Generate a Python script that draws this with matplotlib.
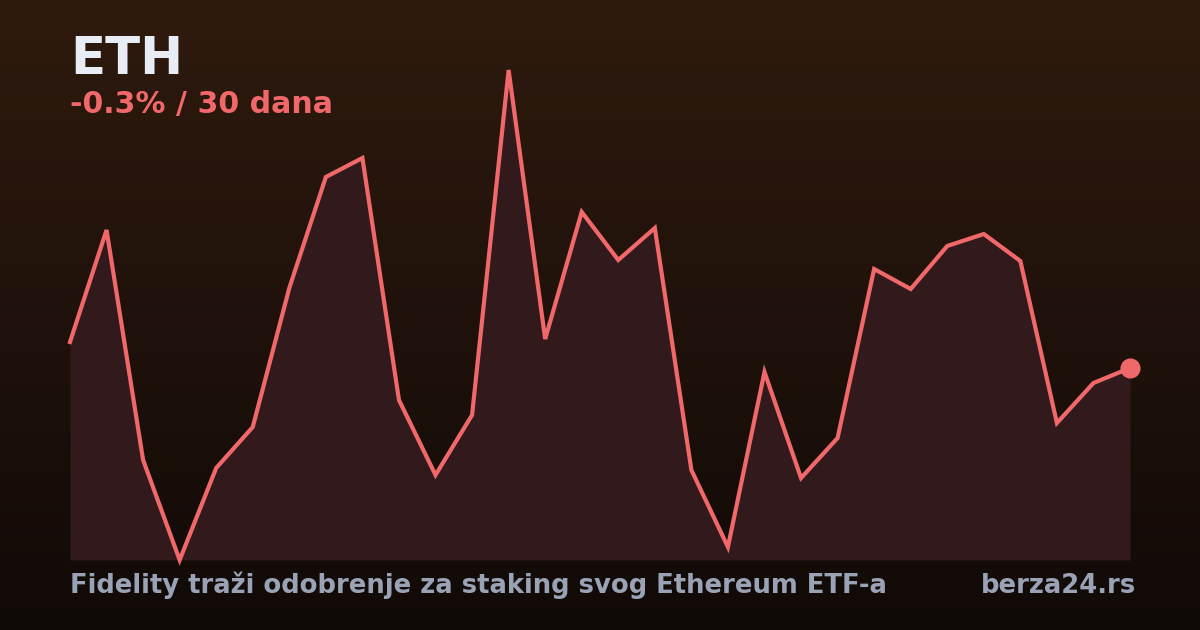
import matplotlib
matplotlib.use("Agg")
import matplotlib.pyplot as plt
import numpy as np
from matplotlib.colors import LinearSegmentedColormap

# ETH closing prices over the last 30 days
days = list(range(1, 31))
prices = [2665.4, 2699.0, 2630.0, 2600.0, 2627.6, 2639.9, 2681.6, 2714.9, 2720.6, 2648.0,
          2625.5, 2643.5, 2747.0, 2666.3, 2704.4, 2690.0, 2699.6, 2627.0, 2603.9, 2656.4,
          2624.6, 2636.6, 2687.3, 2681.3, 2694.2, 2697.8, 2689.7, 2641.1, 2653.1, 2657.6]

ticker = "ETH"
headline = "Fidelity traži odobrenje za staking svog Ethereum ETF-a"
source = "berza24.rs"

W, H = 1200, 630
line_col = "#f0686a"
fill_col = "#32191c"

def main():
    fig = plt.figure(figsize=(W / 100, H / 100), dpi=100)

    # background gradient
    bg = fig.add_axes([0, 0, 1, 1])
    cmap = LinearSegmentedColormap.from_list("bg", ["#2f1a0e", "#100a07"])
    grad = np.linspace(0, 1, 256).reshape(-1, 1)
    bg.imshow(grad, aspect="auto", cmap=cmap, extent=[0, 1, 0, 1], origin="upper")
    bg.set_axis_off()

    # chart area in pixel terms: x 70..1130, y 70..560 (from top)
    ax = fig.add_axes([70 / W, (H - 560) / H, 1060 / W, 490 / H])
    ax.set_facecolor("none")
    lo, hi = min(prices), max(prices)
    ax.fill_between(days, prices, lo, color=fill_col, lw=0, zorder=1)
    ax.plot(days, prices, color=line_col, lw=3.0, solid_joinstyle="miter", clip_on=False, zorder=2)
    ax.plot(days[-1], prices[-1], "o", color=line_col, ms=13.5, clip_on=False, zorder=3)
    ax.set_xlim(days[0], days[-1])
    ax.set_ylim(lo, hi)
    ax.set_axis_off()

    change = (prices[-1] - prices[0]) / prices[0] * 100
    def fy(px):
        return 1 - px / H

    fig.text(70 / W, fy(74), ticker, color="#e8ecf4", fontsize=37, fontweight="bold", va="baseline")
    fig.text(70 / W, fy(113), f"{change:.1f}% / {len(days)} dana", color=line_col,
             fontsize=21.6, fontweight="bold", va="baseline")
    fig.text(70 / W, fy(593), headline, color="#9aa3b5", fontsize=18.6, fontweight="bold", va="baseline")
    fig.text(1136 / W, fy(593), source, color="#9aa3b5", fontsize=18.6, fontweight="bold",
             va="baseline", ha="right")

    fig.savefig("out.png", dpi=100)

if __name__ == "__main__":
    main()
